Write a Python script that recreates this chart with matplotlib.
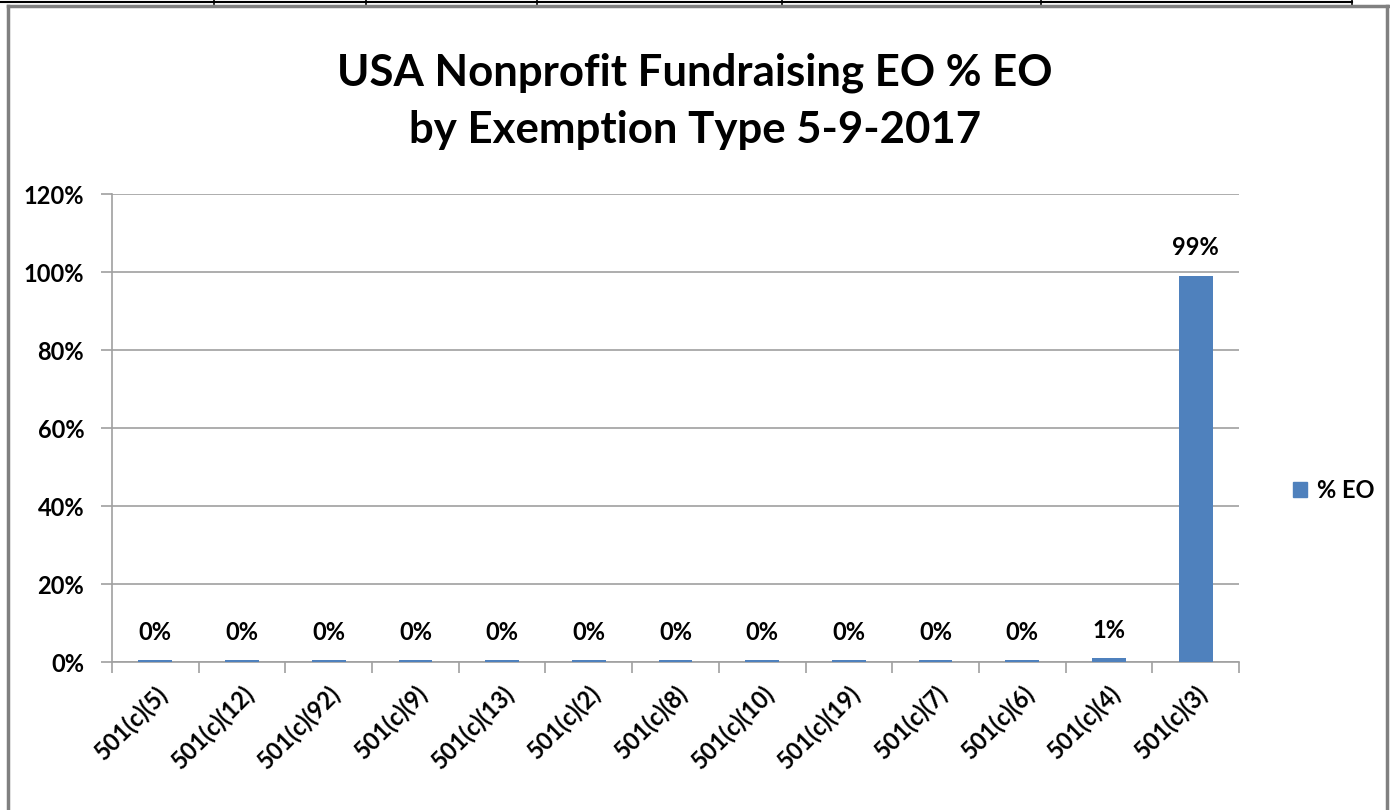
import matplotlib
matplotlib.use("Agg")
import matplotlib.pyplot as plt
from matplotlib.lines import Line2D
from matplotlib.patches import Rectangle
from matplotlib.ticker import FuncFormatter, FixedLocator

categories = ["501(c)(5)", "501(c)(12)", "501(c)(92)", "501(c)(9)", "501(c)(13)",
              "501(c)(2)", "501(c)(8)", "501(c)(10)", "501(c)(19)", "501(c)(7)",
              "501(c)(6)", "501(c)(4)", "501(c)(3)"]
pct_eo = [0.004, 0.004, 0.004, 0.004, 0.004, 0.004, 0.004, 0.004, 0.004, 0.004,
          0.004, 0.009, 0.99]
series_name = "% EO"
title = "USA Nonprofit Fundraising EO % EO\nby Exemption Type 5-9-2017"

plt.rcParams['font.family'] = ['Lato', 'DejaVu Sans']
plt.rcParams['font.weight'] = 'bold'

W, H = 1390, 810
fig = plt.figure(figsize=(13.9, 8.1), dpi=100)
ax = fig.add_axes([112 / W, 1 - 662 / H, (1239 - 112) / W, (662 - 194) / H])

bar_color = "#4F81BD"
x = list(range(len(categories)))
bars = ax.bar(x, pct_eo, width=0.39, color=bar_color, label=series_name, zorder=3)

ax.set_xlim(-0.5, len(categories) - 0.5)
ax.set_ylim(0, 1.2)
ax.yaxis.set_major_locator(FixedLocator([0, 0.2, 0.4, 0.6, 0.8, 1.0, 1.2]))
ax.yaxis.set_major_formatter(FuncFormatter(lambda v, p: f"{v*100:.0f}%"))
ax.grid(axis='y', color='#A0A0A0', linewidth=1.2, zorder=0)
ax.set_axisbelow(True)

for s in ['top', 'right']:
    ax.spines[s].set_visible(False)
for s in ['left', 'bottom']:
    ax.spines[s].set_color('#A0A0A0')
    ax.spines[s].set_linewidth(1.2)

ax.set_xticks(x)
ax.set_xticklabels(categories, rotation=45, ha='right', rotation_mode='anchor',
                   fontsize=17, fontweight='bold')
ax.xaxis.set_minor_locator(FixedLocator([i - 0.5 for i in range(len(categories) + 1)]))
ax.tick_params(axis='x', which='major', length=0, pad=14)
ax.tick_params(axis='x', which='minor', length=8, color='#A0A0A0', width=1.2)
ax.tick_params(axis='y', length=8, color='#A0A0A0', width=1.2, labelsize=17, pad=12)
for lab in ax.get_yticklabels():
    lab.set_fontweight('bold')

for rect, v in zip(bars, pct_eo):
    ax.annotate(f"{v*100:.0f}%", (rect.get_x() + rect.get_width() / 2, v),
                xytext=(0, 12), textcoords='offset points', ha='center', va='bottom',
                fontsize=17, fontweight='bold')

fig.text(0.5, 1 - 101 / H, title, ha='center', va='center',
         fontsize=31.5, fontweight='bold', linespacing=1.5)

fig.legend(handles=[Rectangle((0, 0), 1, 1, color=bar_color)], labels=[series_name],
           loc='center left', bbox_to_anchor=(1272 / W, 1 - 490 / H), frameon=False,
           handlelength=0.6, handleheight=0.6, handletextpad=0.4,
           prop={'weight': 'bold', 'size': 17})

# chart frame and spreadsheet cell lines
def fl(xs, ys, **kw):
    fig.add_artist(Line2D([v / W for v in xs], [1 - v / H for v in ys],
                          transform=fig.transFigure, **kw))

fl([8, 8], [6, 812], color='#808080', linewidth=2.5)
fl([8, 1388], [6, 6], color='#808080', linewidth=2.5)
fl([1387, 1387], [6, 812], color='#808080', linewidth=2.5)
fl([0, 1352], [1.5, 1.5], color='black', linewidth=1.5)
for xv in [214, 366, 537, 782, 1041, 1352]:
    fl([xv, xv], [0, 4], color='black', linewidth=1.2)

fig.savefig("out.png", dpi=100)
